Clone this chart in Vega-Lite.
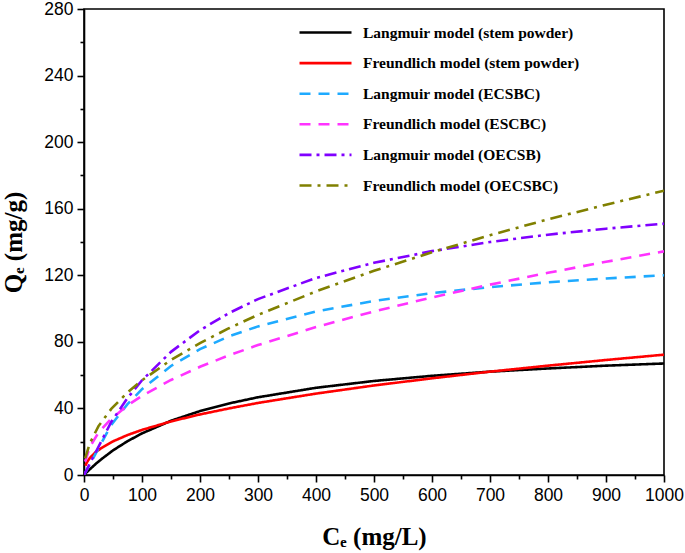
{
  "$schema": "https://vega.github.io/schema/vega-lite/v6.json",
  "width": 580,
  "height": 466,
  "autosize": "none",
  "padding": {"left": 84, "top": 9, "right": 21, "bottom": 78},
  "background": "white",
  "config": {
    "view": {"stroke": "black", "strokeWidth": 1.6},
    "axis": {
      "domainColor": "black",
      "domainWidth": 1.6,
      "tickColor": "black",
      "tickWidth": 1.6,
      "grid": false,
      "labelFont": "Liberation Sans",
      "labelFontSize": 17.5,
      "labelColor": "black",
      "titleFont": "Liberation Serif",
      "titleFontWeight": "bold",
      "titleFontSize": 25,
      "titleColor": "black"
    }
  },
  "data": {
    "values": [
      {"series": "Langmuir model (stem powder)", "C": 0, "Q": 0},
      {"series": "Langmuir model (stem powder)", "C": 5, "Q": 1.8},
      {"series": "Langmuir model (stem powder)", "C": 10, "Q": 3.4},
      {"series": "Langmuir model (stem powder)", "C": 20, "Q": 6.6},
      {"series": "Langmuir model (stem powder)", "C": 30, "Q": 9.5},
      {"series": "Langmuir model (stem powder)", "C": 50, "Q": 14.8},
      {"series": "Langmuir model (stem powder)", "C": 75, "Q": 20.3},
      {"series": "Langmuir model (stem powder)", "C": 100, "Q": 25},
      {"series": "Langmuir model (stem powder)", "C": 150, "Q": 32.6},
      {"series": "Langmuir model (stem powder)", "C": 200, "Q": 38.4},
      {"series": "Langmuir model (stem powder)", "C": 250, "Q": 43},
      {"series": "Langmuir model (stem powder)", "C": 300, "Q": 46.7},
      {"series": "Langmuir model (stem powder)", "C": 400, "Q": 52.4},
      {"series": "Langmuir model (stem powder)", "C": 500, "Q": 56.5},
      {"series": "Langmuir model (stem powder)", "C": 600, "Q": 59.6},
      {"series": "Langmuir model (stem powder)", "C": 700, "Q": 62.1},
      {"series": "Langmuir model (stem powder)", "C": 800, "Q": 64},
      {"series": "Langmuir model (stem powder)", "C": 900, "Q": 65.7},
      {"series": "Langmuir model (stem powder)", "C": 1000, "Q": 67},
      {"series": "Freundlich model (stem powder)", "C": 2.5, "Q": 5.6},
      {"series": "Freundlich model (stem powder)", "C": 5, "Q": 7.6},
      {"series": "Freundlich model (stem powder)", "C": 10, "Q": 10.2},
      {"series": "Freundlich model (stem powder)", "C": 20, "Q": 13.7},
      {"series": "Freundlich model (stem powder)", "C": 30, "Q": 16.2},
      {"series": "Freundlich model (stem powder)", "C": 50, "Q": 20.2},
      {"series": "Freundlich model (stem powder)", "C": 75, "Q": 24},
      {"series": "Freundlich model (stem powder)", "C": 100, "Q": 27.1},
      {"series": "Freundlich model (stem powder)", "C": 150, "Q": 32.2},
      {"series": "Freundlich model (stem powder)", "C": 200, "Q": 36.4},
      {"series": "Freundlich model (stem powder)", "C": 250, "Q": 40},
      {"series": "Freundlich model (stem powder)", "C": 300, "Q": 43.3},
      {"series": "Freundlich model (stem powder)", "C": 400, "Q": 48.9},
      {"series": "Freundlich model (stem powder)", "C": 500, "Q": 53.8},
      {"series": "Freundlich model (stem powder)", "C": 600, "Q": 58.1},
      {"series": "Freundlich model (stem powder)", "C": 700, "Q": 62.1},
      {"series": "Freundlich model (stem powder)", "C": 800, "Q": 65.7},
      {"series": "Freundlich model (stem powder)", "C": 900, "Q": 69.1},
      {"series": "Freundlich model (stem powder)", "C": 1000, "Q": 72.3},
      {"series": "Langmuir model (ECSBC)", "C": 0, "Q": 0},
      {"series": "Langmuir model (ECSBC)", "C": 47, "Q": 30.1},
      {"series": "Langmuir model (ECSBC)", "C": 75, "Q": 42.6},
      {"series": "Langmuir model (ECSBC)", "C": 100, "Q": 51.6},
      {"series": "Langmuir model (ECSBC)", "C": 150, "Q": 65.5},
      {"series": "Langmuir model (ECSBC)", "C": 200, "Q": 75.6},
      {"series": "Langmuir model (ECSBC)", "C": 250, "Q": 83.3},
      {"series": "Langmuir model (ECSBC)", "C": 300, "Q": 89.3},
      {"series": "Langmuir model (ECSBC)", "C": 400, "Q": 98.3},
      {"series": "Langmuir model (ECSBC)", "C": 500, "Q": 104.6},
      {"series": "Langmuir model (ECSBC)", "C": 600, "Q": 109.3},
      {"series": "Langmuir model (ECSBC)", "C": 700, "Q": 112.9},
      {"series": "Langmuir model (ECSBC)", "C": 800, "Q": 115.8},
      {"series": "Langmuir model (ECSBC)", "C": 900, "Q": 118.1},
      {"series": "Langmuir model (ECSBC)", "C": 1000, "Q": 120},
      {"series": "Freundlich model (ESCBC)", "C": 2, "Q": 8.1},
      {"series": "Freundlich model (ESCBC)", "C": 10, "Q": 16.8},
      {"series": "Freundlich model (ESCBC)", "C": 25, "Q": 25.5},
      {"series": "Freundlich model (ESCBC)", "C": 47, "Q": 33.8},
      {"series": "Freundlich model (ESCBC)", "C": 75, "Q": 41.8},
      {"series": "Freundlich model (ESCBC)", "C": 100, "Q": 47.6},
      {"series": "Freundlich model (ESCBC)", "C": 150, "Q": 57.1},
      {"series": "Freundlich model (ESCBC)", "C": 200, "Q": 65},
      {"series": "Freundlich model (ESCBC)", "C": 250, "Q": 71.9},
      {"series": "Freundlich model (ESCBC)", "C": 300, "Q": 78.1},
      {"series": "Freundlich model (ESCBC)", "C": 400, "Q": 88.9},
      {"series": "Freundlich model (ESCBC)", "C": 500, "Q": 98.3},
      {"series": "Freundlich model (ESCBC)", "C": 600, "Q": 106.7},
      {"series": "Freundlich model (ESCBC)", "C": 700, "Q": 114.4},
      {"series": "Freundlich model (ESCBC)", "C": 800, "Q": 121.5},
      {"series": "Freundlich model (ESCBC)", "C": 900, "Q": 128.1},
      {"series": "Freundlich model (ESCBC)", "C": 1000, "Q": 134.4},
      {"series": "Langmuir model (OECSB)", "C": 0, "Q": 0},
      {"series": "Langmuir model (OECSB)", "C": 47, "Q": 31.9},
      {"series": "Langmuir model (OECSB)", "C": 75, "Q": 46.2},
      {"series": "Langmuir model (OECSB)", "C": 100, "Q": 56.9},
      {"series": "Langmuir model (OECSB)", "C": 150, "Q": 74},
      {"series": "Langmuir model (OECSB)", "C": 200, "Q": 87},
      {"series": "Langmuir model (OECSB)", "C": 250, "Q": 97.3},
      {"series": "Langmuir model (OECSB)", "C": 300, "Q": 105.7},
      {"series": "Langmuir model (OECSB)", "C": 400, "Q": 118.4},
      {"series": "Langmuir model (OECSB)", "C": 500, "Q": 127.5},
      {"series": "Langmuir model (OECSB)", "C": 600, "Q": 134.5},
      {"series": "Langmuir model (OECSB)", "C": 700, "Q": 140},
      {"series": "Langmuir model (OECSB)", "C": 800, "Q": 144.4},
      {"series": "Langmuir model (OECSB)", "C": 900, "Q": 148},
      {"series": "Langmuir model (OECSB)", "C": 1000, "Q": 151},
      {"series": "Freundlich model (OECSBC)", "C": 2, "Q": 10},
      {"series": "Freundlich model (OECSBC)", "C": 10, "Q": 19},
      {"series": "Freundlich model (OECSBC)", "C": 25, "Q": 29.4},
      {"series": "Freundlich model (OECSBC)", "C": 47, "Q": 39.7},
      {"series": "Freundlich model (OECSBC)", "C": 75, "Q": 49.6},
      {"series": "Freundlich model (OECSBC)", "C": 100, "Q": 56.9},
      {"series": "Freundlich model (OECSBC)", "C": 150, "Q": 69.1},
      {"series": "Freundlich model (OECSBC)", "C": 200, "Q": 79.3},
      {"series": "Freundlich model (OECSBC)", "C": 250, "Q": 88.2},
      {"series": "Freundlich model (OECSBC)", "C": 300, "Q": 96.2},
      {"series": "Freundlich model (OECSBC)", "C": 400, "Q": 110.3},
      {"series": "Freundlich model (OECSBC)", "C": 500, "Q": 122.7},
      {"series": "Freundlich model (OECSBC)", "C": 600, "Q": 133.8},
      {"series": "Freundlich model (OECSBC)", "C": 700, "Q": 144.1},
      {"series": "Freundlich model (OECSBC)", "C": 800, "Q": 153.6},
      {"series": "Freundlich model (OECSBC)", "C": 900, "Q": 162.4},
      {"series": "Freundlich model (OECSBC)", "C": 1000, "Q": 170.8}
    ]
  },
  "mark": {"type": "line", "strokeWidth": 2.6, "clip": true},
  "encoding": {
    "x": {
      "field": "C",
      "type": "quantitative",
      "scale": {"domain": [0, 1000], "nice": false, "zero": false},
      "axis": {
        "values": [0, 50, 100, 150, 200, 250, 300, 350, 400, 450, 500, 550, 600, 650, 700, 750, 800, 850, 900, 950, 1000],
        "format": "d",
        "labelExpr": "datum.value % 100 === 0 ? datum.label : ''",
        "tickSize": {"condition": {"test": "datum.value % 100 === 0", "value": 7}, "value": 4},
        "labelPadding": 4,
        "labelFlush": false,
        "labelOverlap": false,
        "title": "Cₑ (mg/L)",
        "titlePadding": 21
      }
    },
    "y": {
      "field": "Q",
      "type": "quantitative",
      "scale": {"domain": [0, 280], "nice": false},
      "axis": {
        "values": [0, 20, 40, 60, 80, 100, 120, 140, 160, 180, 200, 220, 240, 260, 280],
        "labelExpr": "datum.value % 40 === 0 ? datum.label : ''",
        "tickSize": {"condition": {"test": "datum.value % 40 === 0", "value": 7}, "value": 4},
        "labelPadding": 4,
        "labelFlush": false,
        "labelOverlap": false,
        "title": "Qₑ (mg/g)",
        "titlePadding": 17
      }
    },
    "color": {
      "field": "series",
      "type": "nominal",
      "title": null,
      "scale": {
        "domain": ["Langmuir model (stem powder)", "Freundlich model (stem powder)", "Langmuir model (ECSBC)", "Freundlich model (ESCBC)", "Langmuir model (OECSB)", "Freundlich model (OECSBC)"],
        "range": ["#000000", "#ff0000", "#1eaaff", "#ff33ff", "#8000ff", "#808000"]
      },
      "legend": {
        "orient": "none",
        "legendX": 214,
        "legendY": 9.5,
        "symbolType": "stroke",
        "symbolSize": 2704,
        "symbolStrokeWidth": 2.6,
        "clipHeight": 28,
        "labelFont": "Liberation Serif",
        "labelFontWeight": "bold",
        "labelFontSize": 15.5,
        "labelColor": "black",
        "labelOffset": 10,
        "labelLimit": 400,
        "rowPadding": 2.6
      }
    },
    "strokeDash": {
      "field": "series",
      "type": "nominal",
      "title": null,
      "scale": {
        "domain": ["Langmuir model (stem powder)", "Freundlich model (stem powder)", "Langmuir model (ECSBC)", "Freundlich model (ESCBC)", "Langmuir model (OECSB)", "Freundlich model (OECSBC)"],
        "range": [[1, 0], [1, 0], [11, 8], [11, 8], [12, 5, 3, 5], [12, 6, 3, 6]]
      }
    }
  }
}
